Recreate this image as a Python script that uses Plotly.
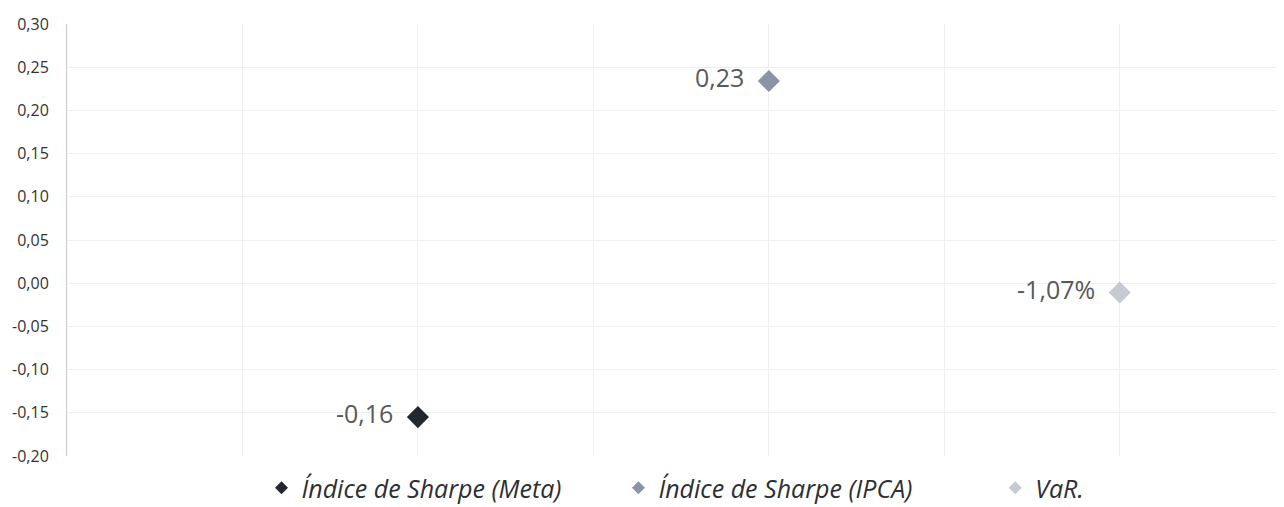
import plotly.graph_objects as go

series = ["Índice de Sharpe (Meta)", "Índice de Sharpe (IPCA)", "VaR."]
x_pos = [1, 2, 3]
values = [-0.155, 0.234, -0.0107]
labels = ["-0,16", "0,23", "-1,07%"]
colors = ["#23282f", "#8a94a6", "#c5cad3"]

y_ticks = [-0.20, -0.15, -0.10, -0.05, 0.00, 0.05, 0.10, 0.15, 0.20, 0.25, 0.30]
y_tick_text = [("%.2f" % (v + 0.0)).replace(".", ",").replace("-0,00", "0,00") for v in y_ticks]

fig = go.Figure()
for name, xv, yv, lab, col in zip(series, x_pos, values, labels, colors):
    fig.add_trace(go.Scatter(
        x=[xv], y=[yv], mode="markers+text", name=name, showlegend=False,
        text=[lab], texttemplate="%{text}\u00a0\u00a0", textposition="middle left",
        textfont=dict(size=25, color="#595959", family="Open Sans"),
        marker=dict(symbol="diamond", size=17, color=col),
        cliponaxis=False,
    ))
# legend entries (smaller symbols, wider spacing)
gaps = ["\u00a0" * 8, "\u00a0" * 12, ""]
for name, col, g in zip(series, colors, gaps):
    fig.add_trace(go.Scatter(
        x=[None], y=[None], mode="markers",
        name=name + g,
        marker=dict(symbol="diamond", size=10, color=col),
    ))

fig.update_layout(
    width=1276, height=499,
    margin=dict(l=59, r=0, t=16, b=51),
    paper_bgcolor="white", plot_bgcolor="white",
    font=dict(family="Open Sans", color="#333333"),
    showlegend=True,
    legend=dict(orientation="h", x=0.5, xanchor="center", xref="paper",
                y=0.038, yanchor="middle", yref="container",
                font=dict(size=25, color="#2b2f36", family="Open Sans", style="italic"),
                itemsizing="trace", traceorder="normal", itemwidth=30),
    xaxis=dict(range=[0, 3.468], dtick=0.5, tick0=0, showticklabels=False,
               showgrid=True, gridcolor="#efefef", gridwidth=1, zeroline=False,
               showline=False, ticks=""),
    yaxis=dict(range=[-0.20, 0.30], tickvals=y_ticks, ticktext=y_tick_text,
               showgrid=True, gridcolor="#efefef", gridwidth=1, zeroline=False,
               showline=True, linecolor="#c8c8c8", linewidth=1, automargin=False,
               tickfont=dict(size=16, color="#333333"), ticks="", ticklabelstandoff=14),
)

fig.write_html("out.html")
